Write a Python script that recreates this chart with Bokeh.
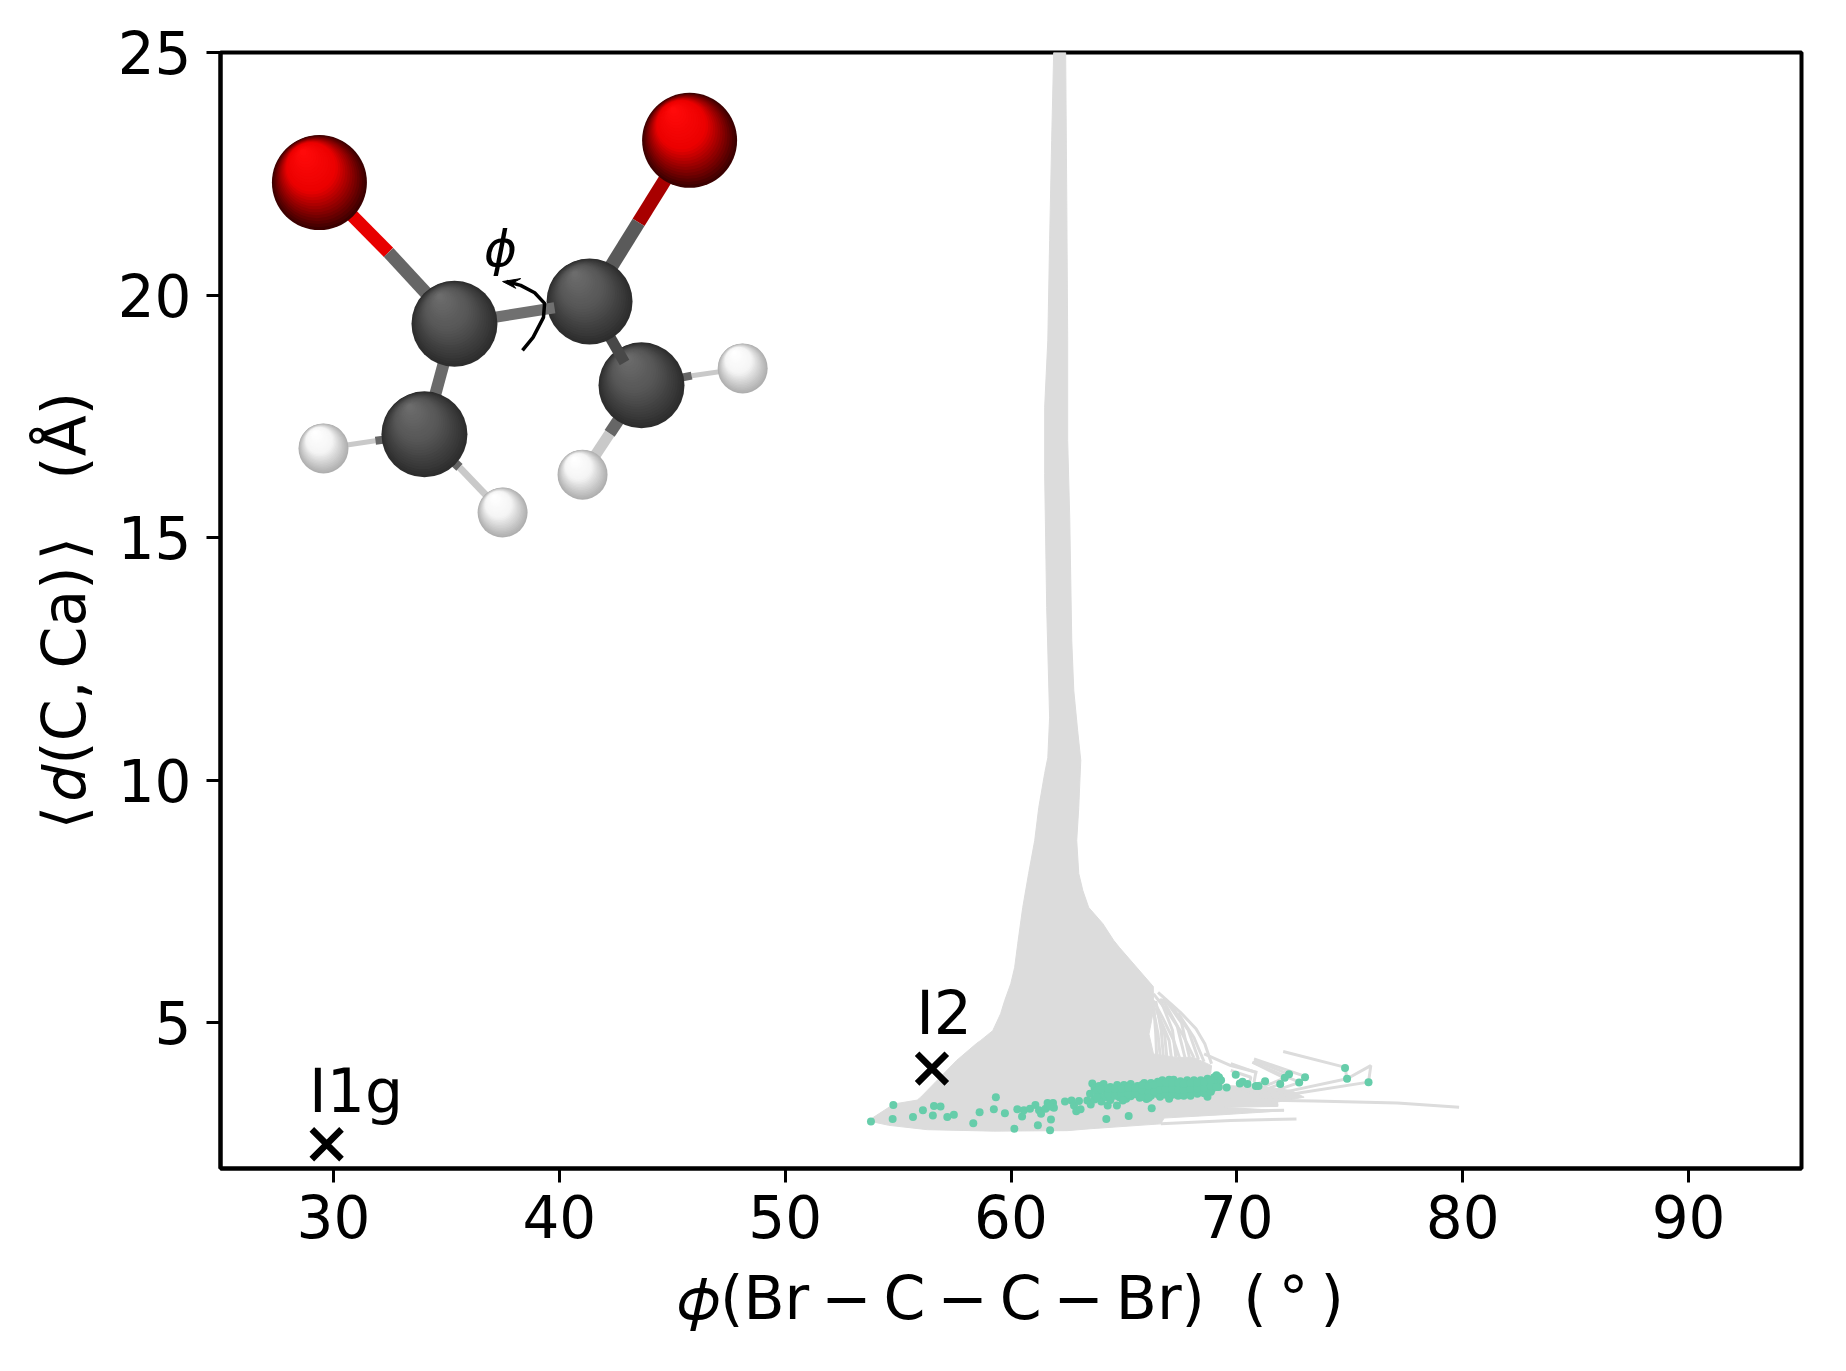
from bokeh.plotting import figure
from bokeh.embed import file_html
from bokeh.resources import INLINE
from bokeh.models import FixedTicker, Range1d
from bokeh.core.properties import value

# ---- axes ----
x_ticks = [30, 40, 50, 60, 70, 80, 90]
y_ticks = [5, 10, 15, 20, 25]
x_label = "\U0001D719(Br\u2009\u2212\u2009C\u2009\u2212\u2009C\u2009\u2212\u2009Br)\u00a0\u00a0(\u2009\u00b0\u2009)"
y_label = "\u27e8\u200a\U0001D451(C,\u2009Ca)\u200a\u27e9\u00a0\u00a0\u00a0(\u00c5)"

# ---- grey bundle of trajectories, outer envelope ----
env_x = [53.79, 53.86, 54.82, 55.85, 56.00, 57.60, 58.48, 58.66, 59.19, 59.54, 59.72, 59.99, 60.16, 60.30, 60.52, 60.78,
         61.05, 61.23, 61.49, 61.63, 61.71, 61.58, 61.49, 61.49, 61.63, 61.71, 61.80, 61.89,
         62.42, 62.47, 62.51, 62.51, 62.60, 62.69, 62.78, 62.95, 63.09, 63.00, 62.91, 63.00,
         63.18, 63.44, 64.06, 64.55, 64.81, 66.30, 66.31, 66.11, 66.31, 67.30, 68.09, 68.88,
         68.84, 69.43, 71.21, 72.39, 72.98, 71.80, 71.80, 69.43, 72.09, 69.43, 66.78,
         66.63, 63.53, 62.49, 59.24, 56.29, 54.59]
env_y = [2.97, 3.04, 3.33, 3.41, 3.47, 4.23, 4.58, 4.64, 4.84, 5.19, 5.46, 5.81, 6.14, 6.64, 7.38, 8.08,
         8.76, 9.44, 10.14, 10.47, 11.30, 13.56, 16.32, 17.68, 19.07, 21.13, 23.19, 25.00,
         25.00, 21.95, 19.07, 17.00, 15.42, 12.88, 11.85, 11.03, 10.41, 9.44, 8.76, 8.08,
         7.73, 7.38, 7.05, 6.70, 6.55, 5.75, 5.26, 4.77, 4.36, 4.29, 4.29, 4.12,
         3.95, 3.71, 3.68, 3.61, 3.47, 3.37, 3.28, 3.26, 3.19, 3.11, 3.04,
         2.92, 2.82, 2.78, 2.77, 2.80, 2.89]

# ---- individual grey trajectories that leave the bundle ----
traj_x = [
    [66.51, 67.50, 68.19, 68.58, 68.88],
    [66.31, 67.00, 67.59, 68.09],
    [66.31, 66.70, 67.20, 67.50],
    [66.31, 66.51, 66.61],
    [66.51, 67.00, 67.10],
    [66.41, 66.80, 66.90],
    [66.31, 66.41, 66.45],
    [66.41, 66.65, 66.75],
    [66.60, 67.15, 67.30],
    [66.70, 67.35, 67.70],
    [66.80, 67.55, 67.90],
    [67.10, 67.85, 68.30],
    [67.40, 68.10, 68.55],
    [72.05, 74.68, 74.79, 74.88, 75.93, 75.83, 72.53, 71.21],
    [74.88, 72.46, 71.21],
    [70.76, 72.90],
    [70.69, 72.76],
    [70.76, 72.31],
    [70.69, 72.09],
    [69.73, 73.42, 77.11, 79.84],
    [69.73, 71.84],
    [69.73, 72.09],
    [66.63, 69.73, 72.64],
    [69.73, 70.84, 70.76],
    [69.73, 70.62, 70.54],
    [68.55, 69.73, 70.91],
    [72.12, 70.50],
    [71.25, 70.00],
    [71.92, 70.50],
    [72.76, 71.00],
    [73.02, 72.76],
]
traj_y = [
    [5.63, 5.22, 4.88, 4.57, 4.16],
    [5.60, 5.19, 4.77, 4.29],
    [5.46, 5.12, 4.64, 4.23],
    [5.26, 4.77, 4.29],
    [5.19, 4.64, 4.29],
    [5.32, 4.77, 4.29],
    [5.40, 4.77, 4.29],
    [5.45, 4.85, 4.29],
    [5.50, 4.85, 4.29],
    [5.50, 4.95, 4.29],
    [5.50, 5.00, 4.29],
    [5.35, 4.85, 4.25],
    [5.20, 4.70, 4.20],
    [4.41, 4.10, 4.07, 3.85, 4.12, 3.78, 3.54, 3.46],
    [3.85, 3.61, 3.48],
    [4.26, 3.92],
    [4.19, 3.78],
    [4.23, 3.94],
    [4.19, 3.87],
    [3.42, 3.39, 3.35, 3.26],
    [3.31, 3.31],
    [3.18, 3.20],
    [2.92, 2.99, 3.02],
    [4.16, 3.98, 3.78],
    [4.02, 3.88, 3.74],
    [4.36, 4.12, 3.98],
    [3.87, 3.55],
    [3.80, 3.60],
    [3.74, 3.50],
    [3.77, 3.50],
    [3.88, 3.77],
]

# ---- end points of the trajectories ----
end_x = [53.80, 54.79, 54.76, 55.66, 56.10, 56.59, 56.88, 56.54, 57.18, 57.47, 58.33, 58.61, 59.24, 59.33,
         59.73, 60.15, 60.28, 60.49, 60.57, 60.84, 61.08, 61.19, 61.24, 61.33, 61.53, 61.62, 61.86, 61.90,
         61.73, 61.77, 61.73, 62.39, 62.68, 62.79, 63.01, 62.89, 63.08, 63.38, 63.53, 64.28, 64.22, 64.69,
         66.23, 65.21, 69.95, 70.13, 70.25, 70.47, 70.84, 70.96, 71.25, 71.92, 72.12, 72.31, 72.76, 73.02,
         74.79, 74.88, 69.55, 69.21, 68.70, 67.00, 75.83,
         63.6, 63.7, 63.5, 63.7, 63.9, 63.9, 64.0, 64.1, 64.2, 64.2, 64.4, 64.5, 64.4, 64.7, 64.7, 64.8,
         65.0, 65.0, 65.1, 65.3, 65.3, 65.3, 65.6, 65.6, 65.7, 65.9, 65.9, 65.9, 66.0, 66.2, 66.2, 66.2,
         66.5, 66.4, 66.5, 66.7, 66.7, 66.7, 67.0, 67.0, 67.0, 67.2, 67.3, 67.3, 67.5, 67.5, 67.6,
         67.8, 67.8, 67.9, 68.1, 68.1, 68.1, 68.4, 68.4, 68.4, 68.7, 68.7, 68.6, 69.0, 69.0, 68.9,
         69.1, 69.3, 69.2,
         63.8, 63.8, 64.0, 64.3, 64.3, 64.6, 64.6, 64.9, 64.9, 65.2, 65.2, 65.5, 65.5, 65.8, 65.8, 65.8,
         66.1, 66.1, 66.35, 66.35, 66.6, 66.6, 66.6, 66.85, 66.85, 66.85, 67.15, 67.15, 67.15,
         67.4, 67.4, 67.4, 67.65, 67.65, 67.65, 67.95, 67.95, 67.95, 68.25, 68.25, 68.25,
         68.55, 68.55, 68.55, 68.85, 68.85, 68.85, 69.1, 64.95, 66.1]
end_y = [2.97, 3.31, 3.02, 3.06, 3.20, 3.29, 3.28, 3.09, 3.06, 3.11, 2.93, 3.16, 3.22, 3.47,
         3.14, 2.82, 3.22, 3.07, 3.20, 3.23, 3.31, 2.89, 3.20, 3.13, 3.23, 3.35, 3.35, 3.25,
         3.28, 3.01, 2.79, 3.38, 3.40, 3.30, 3.39, 3.18, 3.22, 3.40, 3.32, 3.30, 3.02, 3.30,
         3.24, 3.08, 3.93, 3.75, 3.79, 3.74, 3.70, 3.70, 3.80, 3.74, 3.87, 3.94, 3.77, 3.88,
         4.07, 3.85, 3.67, 3.88, 3.48, 3.44, 3.78,
         3.75, 3.66, 3.54, 3.42, 3.70, 3.52, 3.38, 3.74, 3.60, 3.47, 3.68, 3.55, 3.41, 3.72, 3.60, 3.47,
         3.72, 3.57, 3.44, 3.74, 3.62, 3.49, 3.70, 3.58, 3.46, 3.76, 3.64, 3.52, 3.43, 3.76, 3.63, 3.50,
         3.79, 3.66, 3.53, 3.82, 3.70, 3.56, 3.83, 3.70, 3.57, 3.83, 3.70, 3.58, 3.80, 3.68, 3.55,
         3.82, 3.70, 3.55, 3.82, 3.70, 3.60, 3.82, 3.70, 3.57, 3.85, 3.72, 3.60, 3.88, 3.76, 3.64,
         3.92, 3.82, 3.68,
         3.60, 3.47, 3.63, 3.53, 3.65, 3.50, 3.64, 3.52, 3.65, 3.53, 3.67, 3.53, 3.66, 3.48, 3.60, 3.72,
         3.56, 3.70, 3.58, 3.72, 3.48, 3.62, 3.76, 3.52, 3.64, 3.77, 3.52, 3.64, 3.77,
         3.50, 3.63, 3.76, 3.50, 3.62, 3.75, 3.50, 3.64, 3.76, 3.54, 3.65, 3.77,
         3.55, 3.66, 3.78, 3.58, 3.70, 3.82, 3.68, 3.40, 3.46]

# ---- labelled intermediates ----
state_names = ["I1g", "I2"]
state_x = [29.7, 56.5]
state_y = [2.50, 4.06]
state_text_x = [28.92, 55.80]
state_text_y = [3.60, 5.20]

# ---- molecule drawn as an inset, in data coordinates ----
BR1, BR2 = (29.38, 22.32), (45.77, 23.19)
C1, C2, C3, C4 = (35.36, 19.41), (41.34, 19.87), (43.64, 18.14), (34.03, 17.13)
H1, H2, H3, H4 = (29.56, 16.84), (37.49, 15.52), (41.03, 16.30), (48.12, 18.49)
arrow_x = [38.37, 38.84, 39.30, 39.35, 38.91, 38.29, 37.67]
arrow_y = [18.86, 19.13, 19.54, 19.83, 20.05, 20.20, 20.28]
head_x = [37.49, 38.29, 37.90, 38.07]
head_y = [20.28, 20.34, 20.24, 20.14]

GREY = "#dcdcdc"
GREEN = "#66cdaa"
FONT = "DejaVu Sans"
TICK_PX = "58px"
LABEL_PX = "60px"

p = figure(width=1846, height=1371, output_backend="svg", toolbar_location=None,
           x_range=Range1d(25, 95), y_range=Range1d(2, 25),
           min_border_left=220, min_border_right=45, min_border_top=52, min_border_bottom=203,
           background_fill_color="white", border_fill_color="white")
p.grid.visible = False
p.outline_line_color = "black"
p.outline_line_width = 4

for ax, ticks in ((p.xaxis[0], x_ticks), (p.yaxis[0], y_ticks)):
    ax.ticker = FixedTicker(ticks=ticks)
    ax.major_tick_line_width = 3
    ax.major_tick_line_color = "black"
    ax.major_tick_in = 0
    ax.major_tick_out = 14
    ax.minor_tick_line_color = None
    ax.axis_line_width = 4
    ax.axis_line_color = "black"
    ax.major_label_text_font = FONT
    ax.major_label_text_font_size = TICK_PX
    ax.major_label_text_color = "black"
    ax.axis_label_text_font = FONT
    ax.axis_label_text_font_size = LABEL_PX
    ax.axis_label_text_font_style = "normal"
    ax.axis_label_text_color = "black"
p.xaxis[0].axis_label = x_label
p.yaxis[0].axis_label = y_label
p.xaxis[0].major_label_standoff = 12
p.yaxis[0].major_label_standoff = 15
p.xaxis[0].axis_label_standoff = 22
p.yaxis[0].axis_label_standoff = 16

# trajectories
p.patch(env_x, env_y, fill_color=GREY, line_color=GREY, line_width=1)
p.multi_line(traj_x, traj_y, line_color=GREY, line_width=3)
p.scatter(end_x, end_y, size=8, fill_color=GREEN, line_color=None)

# intermediates
p.scatter(state_x, state_y, marker="x", size=42, line_color="black", line_width=6.5, fill_color=None)
p.text(state_text_x, state_text_y, text=state_names, text_font=value(FONT), text_font_size="60px",
       text_color="black", text_align="left", text_baseline="alphabetic")


def mix(a, b, t):
    rgb = [round(a[i] + (b[i] - a[i]) * t) for i in range(3)]
    return "#%02x%02x%02x" % tuple(rgb)


def sphere(c, radius_px, edge, mid, light):
    n = 26
    sizes, xs, ys, cols = [], [], [], []
    for i in range(n):
        t = i / (n - 1)
        r = radius_px * (1 - 0.93 * t)
        off = radius_px * 0.84 * t
        xs.append(c[0] - off * 0.40 / 22.58)
        ys.append(c[1] + off * 0.75 / 48.52)
        sizes.append(2 * r)
        cols.append(mix(edge, mid, min(1, t / 0.5)) if t < 0.5 else mix(mid, light, (t - 0.5) / 0.5))
    p.scatter(xs, ys, size=sizes, fill_color=cols, line_color=None)


def bond(a, b, color, w):
    p.line([a[0], b[0]], [a[1], b[1]], line_color=color, line_width=w)


RED = ((60, 0, 0), (235, 0, 0), (255, 10, 10))
CARB = ((45, 45, 45), (85, 85, 85), (108, 108, 108))
HYD = ((175, 175, 175), (245, 245, 245), (255, 255, 255))

# hydrogen bonds and hydrogens
bond(H1, (31.86, 17.00), "#c9c9c9", 5)
bond((31.86, 17.00), C4, "#666666", 8)
bond(H2, (35.58, 16.45), "#c9c9c9", 7)
bond((35.58, 16.45), C4, "#666666", 9)
bond(H3, (42.23, 17.15), "#c9c9c9", 11)
bond((42.23, 17.15), C3, "#666666", 12)
bond(H4, (45.86, 18.34), "#c9c9c9", 5)
bond((45.86, 18.34), C3, "#666666", 8)
for h in (H1, H2, H3, H4):
    sphere(h, 25, *HYD)

# carbons, back to front
bond(C1, C4, "#6a6a6a", 12)
sphere(C4, 43, *CARB)
sphere(C3, 43, *CARB)
bond((42.89, 18.61), C2, "#484848", 11)

# bromine bonds and bromines
bond(BR1, (32.44, 20.88), "#e80000", 13)
bond((32.44, 20.88), C1, "#666666", 13)
bond(BR2, (43.51, 21.50), "#a80000", 14)
bond((43.51, 21.50), C2, "#5a5a5a", 14)
sphere(BR1, 47.5, *RED)
sphere(BR2, 47.5, *RED)

sphere(C2, 43, *CARB)
bond(C1, (39.79, 19.74), "#707070", 11)
sphere(C1, 43, *CARB)

# dihedral arrow
p.line(arrow_x, arrow_y, line_color="black", line_width=3.5)
p.patch(head_x, head_y, fill_color="black", line_color="black", line_width=1)
p.text([37.40], [20.95], text=["\u03d5"], text_font=value(FONT), text_font_style="italic",
       text_font_size="50px", text_color="black", text_align="center", text_baseline="middle")

open("out.html", "w").write(file_html(p, INLINE))
